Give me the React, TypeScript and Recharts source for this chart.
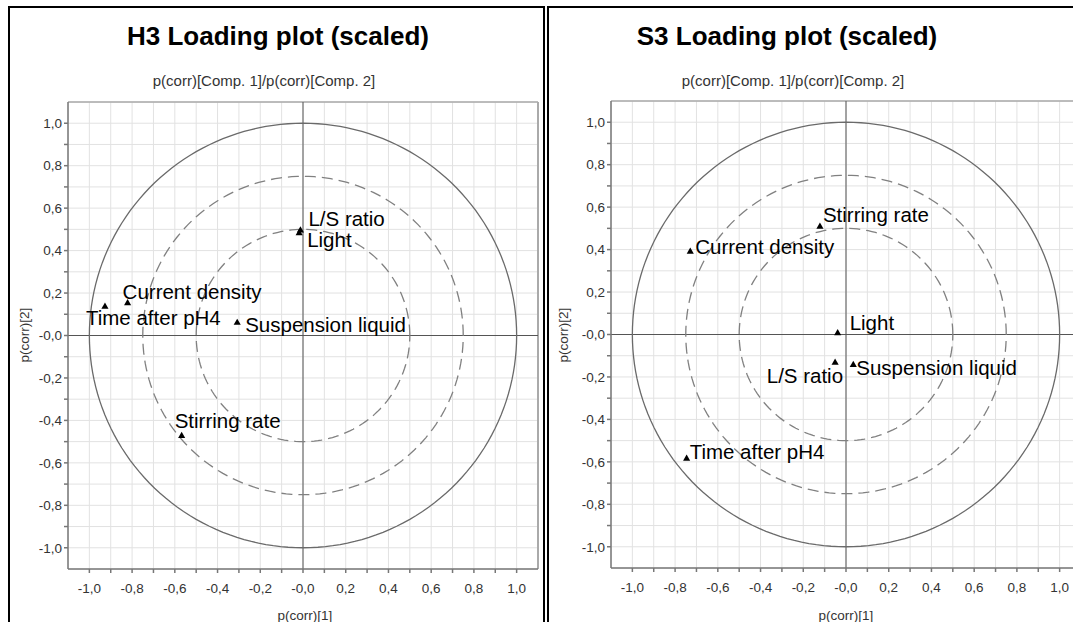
import React from 'react';
import {
  ScatterChart,
  Scatter,
  XAxis,
  YAxis,
  ZAxis,
  CartesianGrid,
  ReferenceLine,
  Symbols,
} from 'recharts';

// Variable names shared by both loading plots
const variables = ['L/S ratio', 'Light', 'Current density', 'Time after pH4', 'Suspension liquid', 'Stirring rate'];

// H3 loadings, p(corr) component 1 / component 2
const h3Comp1 = [-0.012, -0.018, -0.821, -0.927, -0.308, -0.568];
const h3Comp2 = [0.495, 0.482, 0.152, 0.136, 0.06, -0.473];

// S3 loadings
const s3Comp1 = [-0.051, -0.039, -0.729, -0.746, 0.034, -0.122];
const s3Comp2 = [-0.133, 0.006, 0.39, -0.585, -0.143, 0.508];

// correlation circles: solid outer, two dashed inner
const circleRadii = [1, 0.75, 0.5];

const axisTicks = [-1, -0.9, -0.8, -0.7, -0.6, -0.5, -0.4, -0.3, -0.2, -0.1, 0, 0.1, 0.2, 0.3, 0.4, 0.5, 0.6, 0.7, 0.8, 0.9, 1];

// where each name sits relative to its marker: [dx, dy, anchor]
const h3LabelPlacement: [number, number, string][] = [
  [8, -4, 'start'],
  [8, 14, 'start'],
  [-5, -4, 'start'],
  [-19, 18, 'start'],
  [8, 9, 'start'],
  [-7, -8, 'start'],
];
const s3LabelPlacement: [number, number, string][] = [
  [8, 20, 'end'],
  [12, -3, 'start'],
  [5, 2, 'start'],
  [3, 0, 'start'],
  [3, 10, 'start'],
  [3, -5, 'start'],
];

const FONT = "Arial, 'Liberation Sans', sans-serif";

const circleOutline = (r: number) => {
  const pts: { x: number; y: number }[] = [];
  for (let deg = 0; deg <= 360; deg += 2) {
    const a = (deg * Math.PI) / 180;
    pts.push({ x: r * Math.cos(a), y: r * Math.sin(a) });
  }
  return pts;
};

const fmtTick = (v: number) => {
  if (Math.round(v * 10) % 2 !== 0) return '';
  return (v <= 0 ? '-' : '') + Math.abs(v).toFixed(1).replace('.', ',');
};

type PanelProps = {
  title: string;
  comp1: number[];
  comp2: number[];
  placement: [number, number, string][];
  left: number;
  marginLeft: number;
  marginTop: number;
  titleX: number;
  subtitleX: number;
  xLabelX: number;
};

const LoadingPanel = ({ title, comp1, comp2, placement, left, marginLeft, marginTop, titleX, subtitleX, xLabelX }: PanelProps) => {
  const points = variables.map((name, i) => ({ name, x: comp1[i], y: comp2[i], i }));

  const renderPoint = (props: any) => {
    const { cx, cy, payload } = props;
    const [dx, dy, anchor] = placement[payload.i];
    return (
      <g>
        <Symbols cx={cx} cy={cy} type="triangle" size={22} fill="#000" />
        <text x={cx + dx} y={cy + dy} textAnchor={anchor as any} fontSize={20.5} fontFamily={FONT} fill="#000">
          {payload.name}
        </text>
      </g>
    );
  };

  return (
    <div
      style={{
        position: 'absolute',
        left,
        top: 6,
        width: 533,
        height: 640,
        border: '2px solid #000',
        background: '#fff',
        fontFamily: FONT,
      }}
    >
      <div style={{ position: 'absolute', left: titleX - 250, top: 13, width: 500, textAlign: 'center', fontSize: 26, fontWeight: 'bold', lineHeight: '30px', color: '#000' }}>
        {title}
      </div>
      <div style={{ position: 'absolute', left: subtitleX - 250, top: 64, width: 500, textAlign: 'center', fontSize: 15, lineHeight: '18px', color: '#333' }}>
        p(corr)[Comp. 1]/p(corr)[Comp. 2]
      </div>
      <div style={{ position: 'absolute', left: xLabelX - 60, top: 600, width: 120, textAlign: 'center', fontSize: 13.5, lineHeight: '16px', color: '#333' }}>
        p(corr)[1]
      </div>
      <div
        style={{
          position: 'absolute',
          left: 15 - 60,
          top: 327 - 8,
          width: 120,
          textAlign: 'center',
          fontSize: 13.5,
          lineHeight: '16px',
          color: '#333',
          transform: 'rotate(-90deg)',
        }}
      >
        p(corr)[2]
      </div>
      <ScatterChart
        width={533 + (marginLeft - 8)}
        height={600}
        margin={{ top: marginTop, right: 5, bottom: 600 - marginTop - 467 - 30, left: marginLeft }}
        style={{ position: 'absolute', left: 0, top: 0 }}
      >
        <CartesianGrid stroke="#e2e2e2" strokeWidth={1} />
        <XAxis
          type="number"
          dataKey="x"
          domain={[-1.1, 1.1]}
          ticks={axisTicks}
          tickFormatter={fmtTick}
          interval={0}
          height={30}
          tickSize={4}
          tickMargin={10}
          stroke="#777"
          strokeWidth={1.5}
          tick={{ fill: '#333', fontSize: 13.5, fontFamily: FONT }}
        />
        <YAxis
          type="number"
          dataKey="y"
          domain={[-1.1, 1.1]}
          ticks={axisTicks}
          tickFormatter={fmtTick}
          interval={0}
          width={50}
          tickSize={4}
          tickMargin={2}
          stroke="#777"
          strokeWidth={1.5}
          tick={{ fill: '#333', fontSize: 13.5, fontFamily: FONT }}
        />
        <ZAxis type="number" range={[22, 22]} />
        <ReferenceLine y={1.1} stroke="#aaa" strokeWidth={1.5} />
        <ReferenceLine x={1.1} stroke="#aaa" strokeWidth={2} />
        <ReferenceLine x={0} stroke="#555" strokeWidth={1} />
        <ReferenceLine y={0} stroke="#555" strokeWidth={1} />
        {circleRadii.map((r, k) => (
          <Scatter
            key={r}
            data={circleOutline(r)}
            isAnimationActive={false}
            line={{
              stroke: k === 0 ? '#6a6a6a' : '#808080',
              strokeWidth: 1.3,
              strokeDasharray: k === 0 ? undefined : '11 6',
            }}
            shape={() => <g />}
          />
        ))}
        <Scatter data={points} isAnimationActive={false} shape={renderPoint} />
      </ScatterChart>
    </div>
  );
};

export default function App() {
  return (
    <div style={{ position: 'absolute', left: 0, top: 0, width: 1073, height: 622, overflow: 'hidden', background: '#fff' }}>
      <LoadingPanel
        title="H3 Loading plot (scaled)"
        comp1={h3Comp1}
        comp2={h3Comp2}
        placement={h3LabelPlacement}
        left={8}
        marginLeft={8}
        marginTop={94}
        titleX={268}
        subtitleX={254}
        xLabelX={295}
      />
      <LoadingPanel
        title="S3 Loading plot (scaled)"
        comp1={s3Comp1}
        comp2={s3Comp2}
        placement={s3LabelPlacement}
        left={547}
        marginLeft={12}
        marginTop={93}
        titleX={238}
        subtitleX={244}
        xLabelX={297}
      />
    </div>
  );
}
